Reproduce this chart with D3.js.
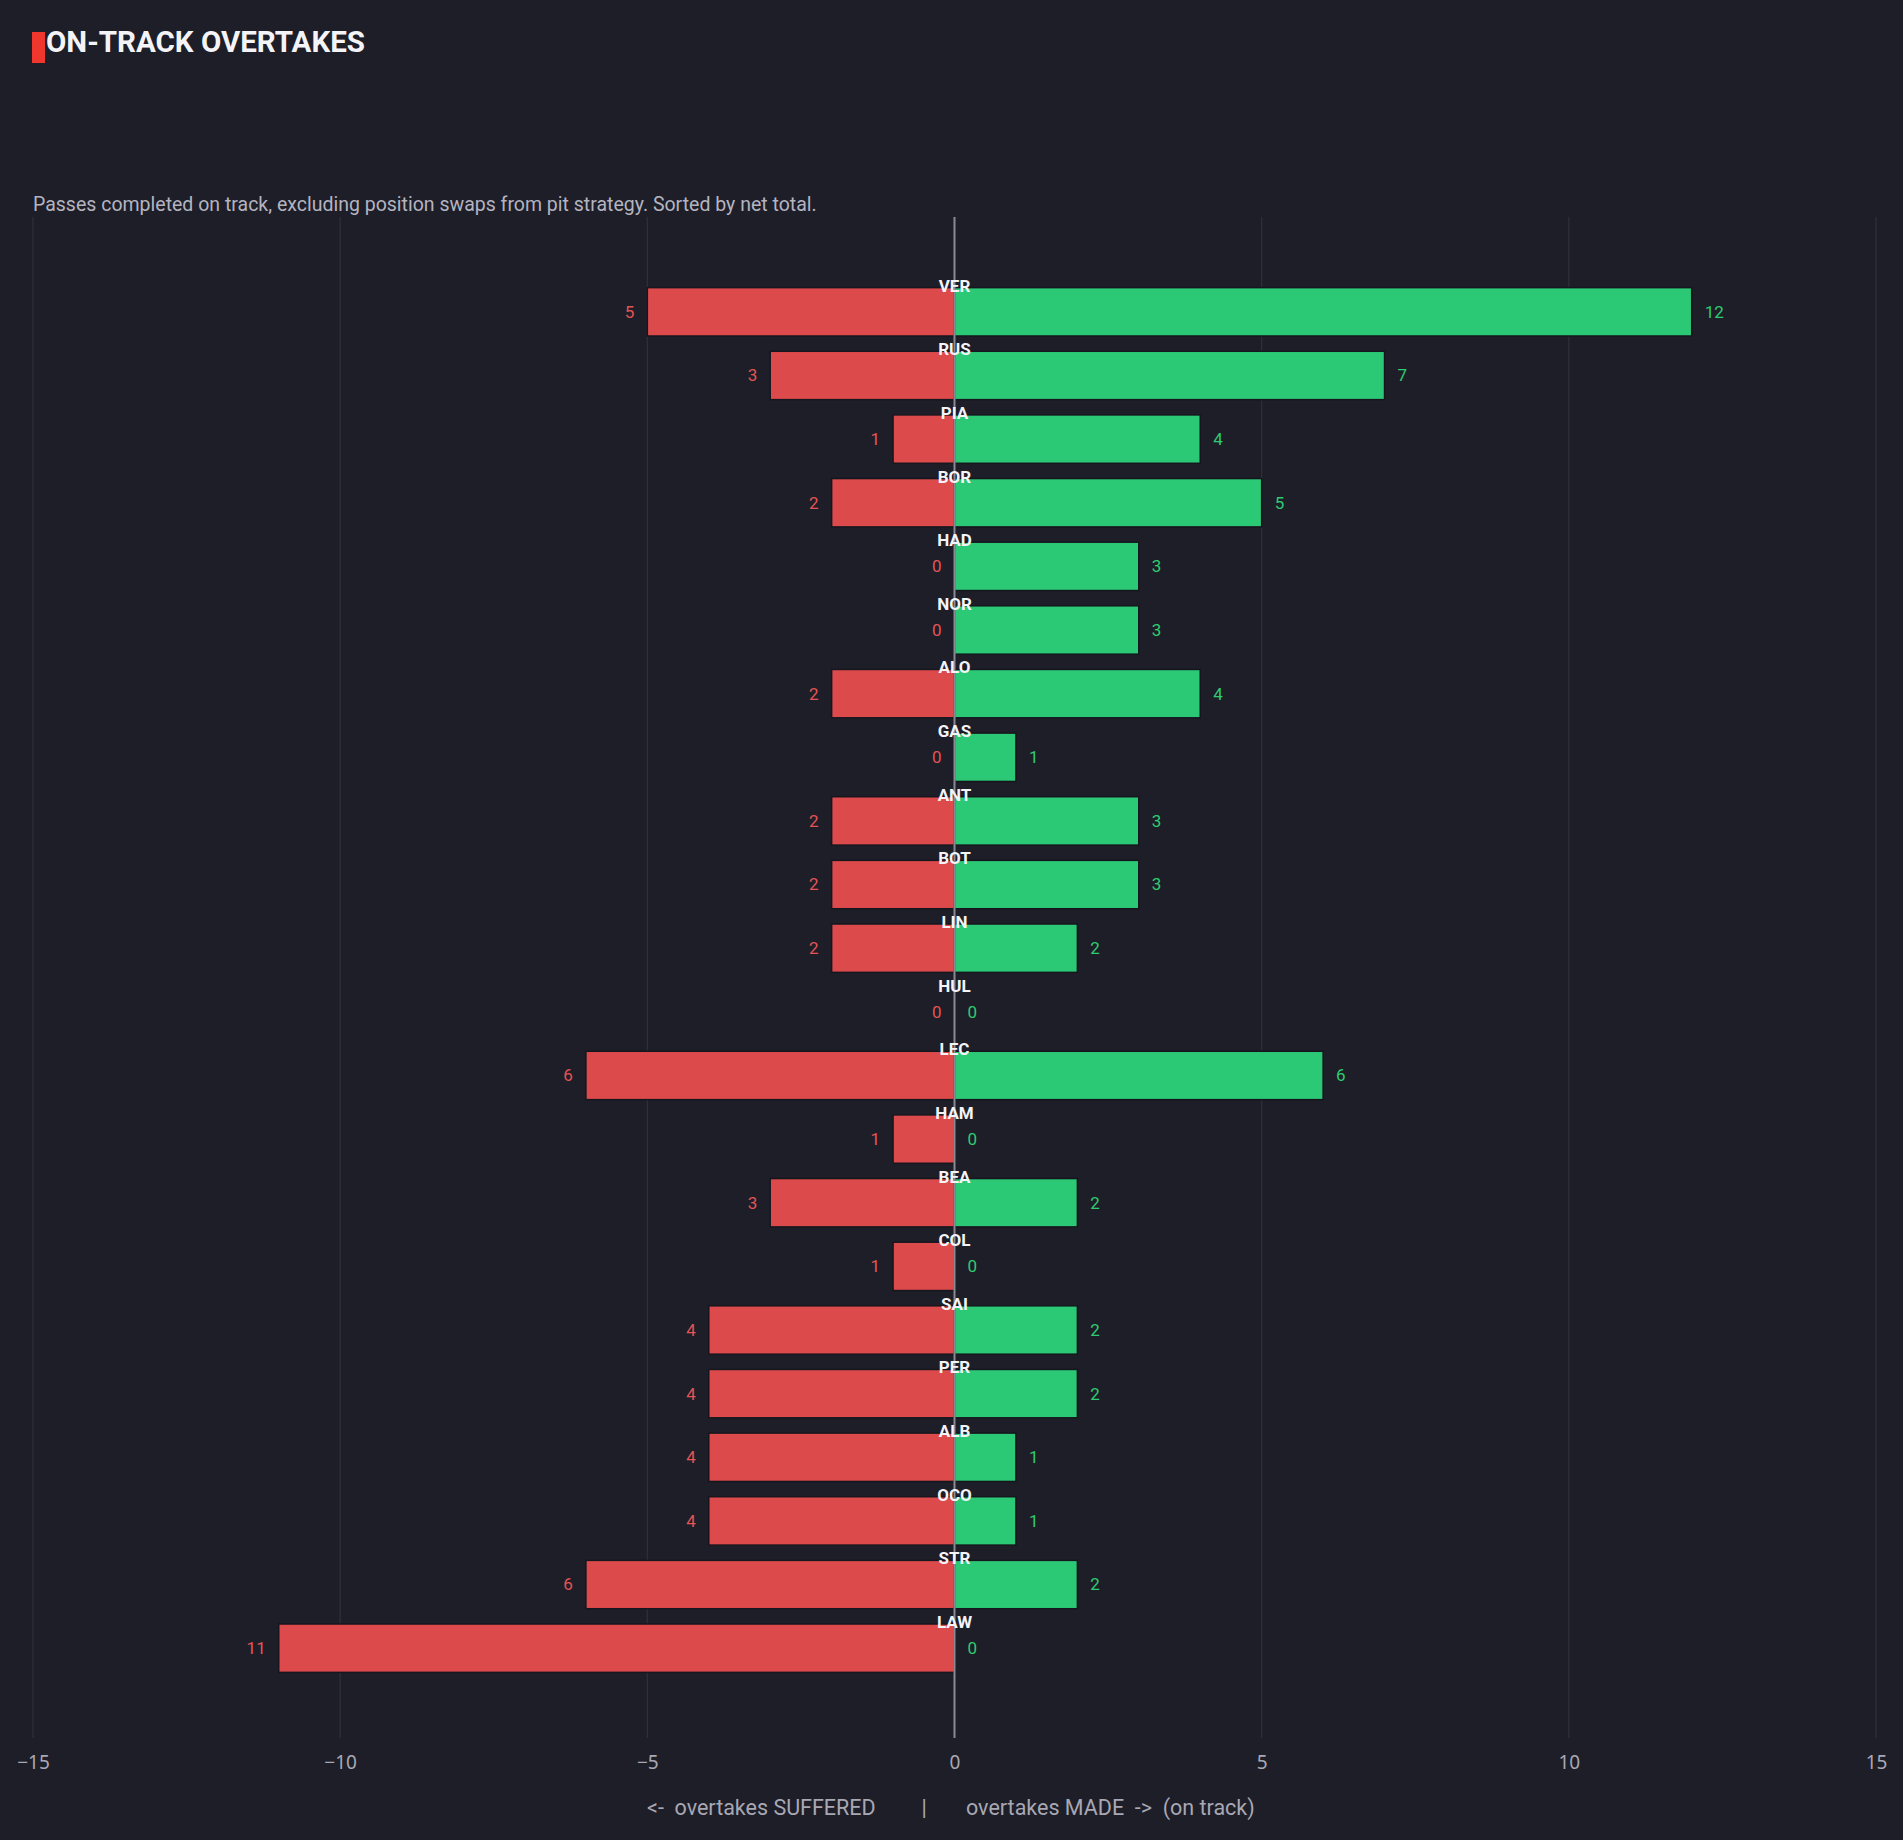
<!DOCTYPE html>
<html>
<head>
<meta charset="utf-8">
<script src="https://cdn.jsdelivr.net/npm/d3@7"></script>
<style>
  body { margin: 0; background: #1e1e28; }
  svg { display: block; }
  .tick text { font-family: 'Noto Sans', sans-serif; }
</style>
</head>
<body>
<div id="chart"></div>
<script>
const w = 1903
const h = 1840

// on-track overtakes, sorted by net total
const drivers = ['VER', 'RUS', 'PIA', 'BOR', 'HAD', 'NOR', 'ALO', 'GAS', 'ANT', 'BOT', 'LIN',
    'HUL', 'LEC', 'HAM', 'BEA', 'COL', 'SAI', 'PER', 'ALB', 'OCO', 'STR', 'LAW']
const suffered = [5, 3, 1, 2, 0, 0, 2, 0, 2, 2, 2, 0, 6, 1, 3, 1, 4, 4, 4, 4, 6, 11]
const made = [12, 7, 4, 5, 3, 3, 4, 1, 3, 3, 2, 0, 6, 0, 2, 0, 2, 2, 1, 1, 2, 0]
const xTicks = [-15, -10, -5, 0, 5, 10, 15]

const font = "'Roboto', 'Noto Sans', sans-serif"
const red = '#dc4a4c'
const green = '#2bc975'

const svg = d3.select('#chart')
    .append('svg')
    .attr('width', w)
    .attr('height', h)

svg.append('rect')
    .attr('width', w)
    .attr('height', h)
    .attr('fill', '#1e1e28')

// title
svg.append('rect')
    .attr('x', 32)
    .attr('y', 32)
    .attr('width', 13)
    .attr('height', 31)
    .attr('fill', '#f0372e')

svg.append('text')
    .attr('x', 46)
    .attr('y', 52)
    .attr('font-family', font)
    .attr('font-weight', 'bold')
    .attr('font-size', 29.5)
    .attr('fill', '#f4f4f8')
    .text('ON-TRACK OVERTAKES')

svg.append('text')
    .attr('x', 33)
    .attr('y', 211)
    .attr('font-family', font)
    .attr('font-size', 19.5)
    .attr('fill', '#b4b4c0')
    .text('Passes completed on track, excluding position swaps from pit strategy. Sorted by net total.')

const xScale = d3.scaleLinear()
    .domain([-15, 15])
    .range([33, 1876])

const yScale = d3.scaleBand()
    .domain(drivers)
    .range([280, 1680])
    .paddingInner(0.24)
    .paddingOuter(0.12)

// grid
svg.append('g')
    .selectAll('line')
    .data(xTicks.filter(d => d !== 0))
    .enter()
    .append('line')
    .attr('x1', d => xScale(d))
    .attr('x2', d => xScale(d))
    .attr('y1', 217)
    .attr('y2', 1738)
    .attr('stroke', '#30303c')
    .attr('stroke-width', 1.2)

const xAxis = d3.axisBottom(xScale)
    .tickValues(xTicks)
    .tickSize(0)
    .tickPadding(18)

const gx = svg.append('g')
    .attr('id', 'x-axis')
    .attr('transform', 'translate(0, 1738)')
    .call(xAxis)
gx.select('.domain').remove()
gx.selectAll('text')
    .attr('font-size', 19)
    .attr('fill', '#a8a8b4')

const rows = drivers.map((d, i) => ({ name: d, suffered: suffered[i], made: made[i] }))

// suffered bars
svg.append('g')
    .selectAll('rect')
    .data(rows)
    .enter()
    .append('rect')
    .attr('x', d => xScale(-d.suffered))
    .attr('y', d => yScale(d.name))
    .attr('width', d => xScale(0) - xScale(-d.suffered))
    .attr('height', yScale.bandwidth())
    .attr('fill', red)
    .attr('stroke', '#16161e')
    .attr('stroke-width', d => d.suffered ? 1.5 : 0)

// made bars
svg.append('g')
    .selectAll('rect')
    .data(rows)
    .enter()
    .append('rect')
    .attr('x', xScale(0))
    .attr('y', d => yScale(d.name))
    .attr('width', d => xScale(d.made) - xScale(0))
    .attr('height', yScale.bandwidth())
    .attr('fill', green)
    .attr('stroke', '#16161e')
    .attr('stroke-width', d => d.made ? 1.5 : 0)

// zero line
svg.append('line')
    .attr('x1', xScale(0))
    .attr('x2', xScale(0))
    .attr('y1', 217)
    .attr('y2', 1738)
    .attr('stroke', '#8a8a94')
    .attr('stroke-width', 2)

// value labels
svg.append('g')
    .selectAll('text')
    .data(rows)
    .enter()
    .append('text')
    .attr('x', d => xScale(-d.suffered) - 13)
    .attr('y', d => yScale(d.name) + yScale.bandwidth() / 2)
    .attr('dy', '0.35em')
    .attr('text-anchor', 'end')
    .attr('font-family', font)
    .attr('font-size', 17)
    .attr('fill', '#e45454')
    .text(d => d.suffered)

svg.append('g')
    .selectAll('text')
    .data(rows)
    .enter()
    .append('text')
    .attr('x', d => xScale(d.made) + 13)
    .attr('y', d => yScale(d.name) + yScale.bandwidth() / 2)
    .attr('dy', '0.35em')
    .attr('font-family', font)
    .attr('font-size', 17)
    .attr('fill', '#2ecc71')
    .text(d => d.made)

// driver names
svg.append('g')
    .selectAll('text')
    .data(rows)
    .enter()
    .append('text')
    .attr('x', xScale(0))
    .attr('y', d => yScale(d.name) + 4)
    .attr('text-anchor', 'middle')
    .attr('font-family', font)
    .attr('font-weight', 'bold')
    .attr('font-size', 17)
    .attr('fill', '#f4f4f8')
    .text(d => d.name)

// x label
const xl = svg.append('g')
    .attr('font-family', font)
    .attr('font-size', 21.5)
    .attr('fill', '#a8a8b4')
xl.append('text')
    .attr('x', 647)
    .attr('y', 1815)
    .attr('xml:space', 'preserve')
    .text('<-  overtakes SUFFERED')
xl.append('text')
    .attr('x', 924)
    .attr('y', 1815)
    .attr('text-anchor', 'middle')
    .text('|')
xl.append('text')
    .attr('x', 966)
    .attr('y', 1815)
    .attr('xml:space', 'preserve')
    .text('overtakes MADE  ->  (on track)')
</script>
</body>
</html>
